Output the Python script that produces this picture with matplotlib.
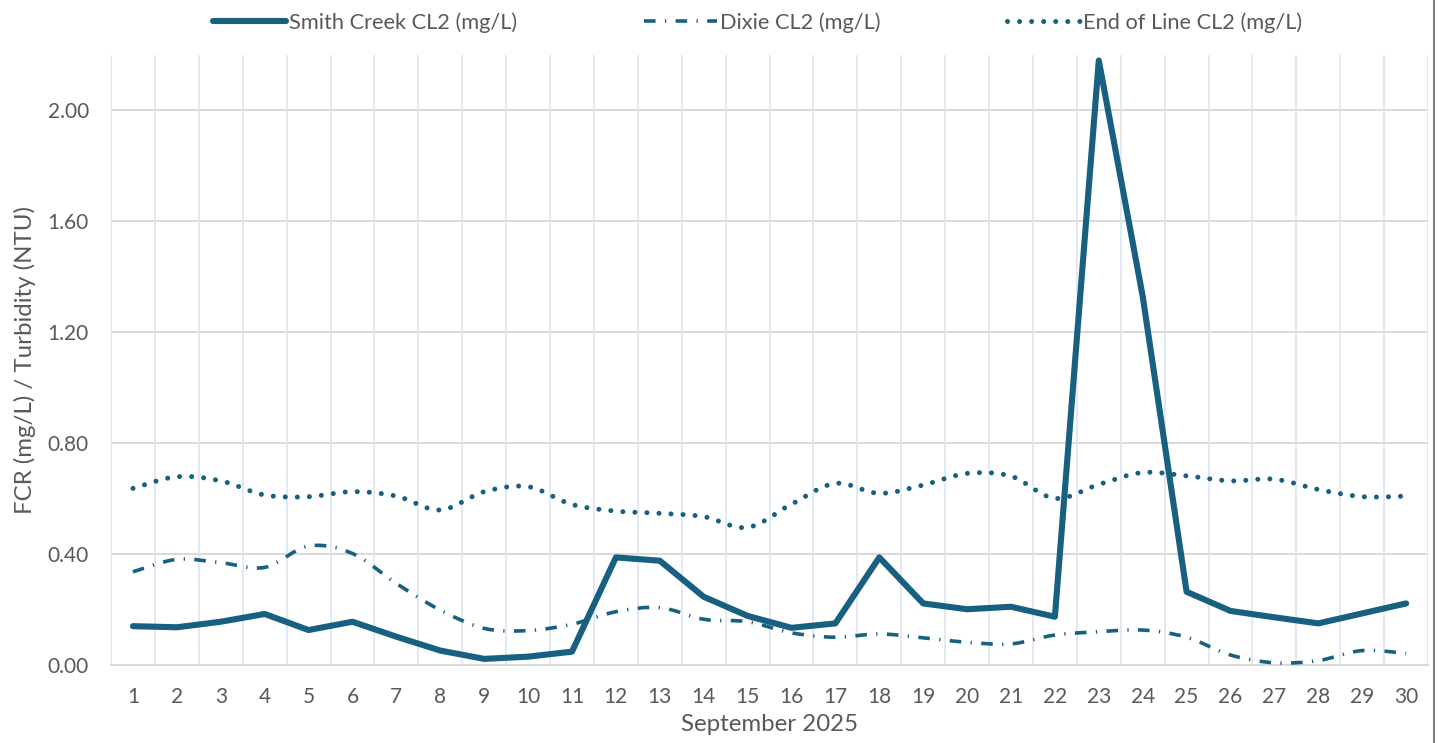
import matplotlib
matplotlib.use("Agg")
import matplotlib.pyplot as plt
from matplotlib.path import Path
from matplotlib.patches import PathPatch
from matplotlib.lines import Line2D
import numpy as np

plt.rcParams['font.family'] = ['Lato', 'DejaVu Sans']

days = list(range(1, 31))
smith_creek = [0.140, 0.136, 0.156, 0.184, 0.126, 0.156, 0.102, 0.052, 0.022, 0.030,
               0.048, 0.388, 0.376, 0.246, 0.177, 0.134, 0.150, 0.388, 0.222, 0.201,
               0.210, 0.174, 2.180, 1.330, 0.264, 0.195, 0.172, 0.150, 0.186, 0.222]
dixie = [0.336, 0.381, 0.369, 0.352, 0.429, 0.402, 0.294, 0.198, 0.132, 0.124,
         0.147, 0.192, 0.207, 0.165, 0.156, 0.116, 0.100, 0.112, 0.098, 0.082,
         0.076, 0.108, 0.120, 0.126, 0.100, 0.036, 0.008, 0.016, 0.052, 0.042]
end_of_line = [0.637, 0.679, 0.664, 0.613, 0.607, 0.625, 0.609, 0.559, 0.625, 0.643,
               0.579, 0.555, 0.547, 0.535, 0.496, 0.580, 0.655, 0.619, 0.649, 0.691,
               0.681, 0.601, 0.651, 0.694, 0.682, 0.664, 0.670, 0.633, 0.607, 0.609]
labels = ["Smith Creek CL2 (mg/L)", "Dixie CL2 (mg/L)", "End of Line CL2 (mg/L)"]
y_ticks = [0.0, 0.4, 0.8, 1.2, 1.6, 2.0]

color = "#17607f"
txt = "#595959"


def smooth_path(x, y):
    """Excel-style smoothed line as cubic Bezier path in data coords."""
    pts = np.column_stack([x, y]).astype(float)
    n = len(pts)
    verts = [pts[0]]
    codes = [Path.MOVETO]
    for i in range(n - 1):
        p0 = pts[i - 1] if i > 0 else pts[i]
        p1 = pts[i]
        p2 = pts[i + 1]
        p3 = pts[i + 2] if i + 2 < n else pts[i + 1]
        c1 = p1 + (p2 - p0) / 6.0
        c2 = p2 - (p3 - p1) / 6.0
        verts += [c1, c2, p2]
        codes += [Path.CURVE4] * 3
    return Path(verts, codes)


fig = plt.figure(figsize=(14.4, 7.43), dpi=100)
ax = fig.add_axes([0.0771, 0.105, 0.9146, 0.821])

ax.set_xlim(0.5, 30.5)
ax.set_ylim(0, 2.2)

# grid
for yt in y_ticks[1:]:
    ax.axhline(yt, color="#d9d9d9", lw=1.4, zorder=1)
for xb in np.arange(0.5, 31, 1.0):
    ax.axvline(xb, color="#dae3f1", lw=1.1, zorder=1)

dot_style = (0, (0.01, 2.4))
dashdot_style = (0, (3.2, 2.6, 0.35, 2.6))

# End of Line (smoothed dotted)
p_eol = PathPatch(smooth_path(days, end_of_line), facecolor="none", edgecolor=color,
                  lw=3.6, linestyle=dot_style, capstyle="round", zorder=3)
ax.add_patch(p_eol)
# Dixie (smoothed long-dash-dot)
p_dx = PathPatch(smooth_path(days, dixie), facecolor="none", edgecolor=color,
                 lw=2.6, linestyle=dashdot_style, capstyle="butt", zorder=3)
ax.add_patch(p_dx)
# Smith Creek (straight solid)
ax.plot(days, smith_creek, color=color, lw=4.4, solid_joinstyle="round",
        solid_capstyle="round", zorder=4)

for s in ["top", "right", "left"]:
    ax.spines[s].set_visible(False)
ax.spines["bottom"].set_color("#d9d9d9")
ax.spines["bottom"].set_linewidth(1.4)

ax.set_xticks(days)
ax.set_xticklabels([str(d) for d in days])
ax.set_yticks(y_ticks)
ax.set_yticklabels([f"{v:.2f}" for v in y_ticks])
ax.tick_params(axis="both", length=0, labelsize=15, colors=txt)
ax.tick_params(axis="y", pad=16)
ax.tick_params(axis="x", pad=16)
ax.set_xlabel("September 2025", fontsize=17.3, color=txt, labelpad=5)
ax.set_ylabel("FCR (mg/L) / Turbidity (NTU)", fontsize=17.3, color=txt, labelpad=8)

handles = [
    Line2D([], [], color=color, lw=4.4, solid_capstyle="round"),
    Line2D([], [], color=color, lw=2.6, linestyle=dashdot_style, dash_capstyle="butt"),
    Line2D([], [], color=color, lw=3.6, linestyle=dot_style, dash_capstyle="round"),
]
leg = fig.legend(handles, labels, loc="upper center", bbox_to_anchor=(0.526, 1.01),
                 ncol=3, frameon=False, fontsize=15.7, handlelength=3.35,
                 handletextpad=0.15, columnspacing=5.8)
for t in leg.get_texts():
    t.set_color(txt)

# right border line
fig.add_artist(Line2D([0.9955, 0.9955], [0, 1], transform=fig.transFigure,
                      color="#7f7f7f", lw=1.5))

fig.savefig("out.png", dpi=100)
